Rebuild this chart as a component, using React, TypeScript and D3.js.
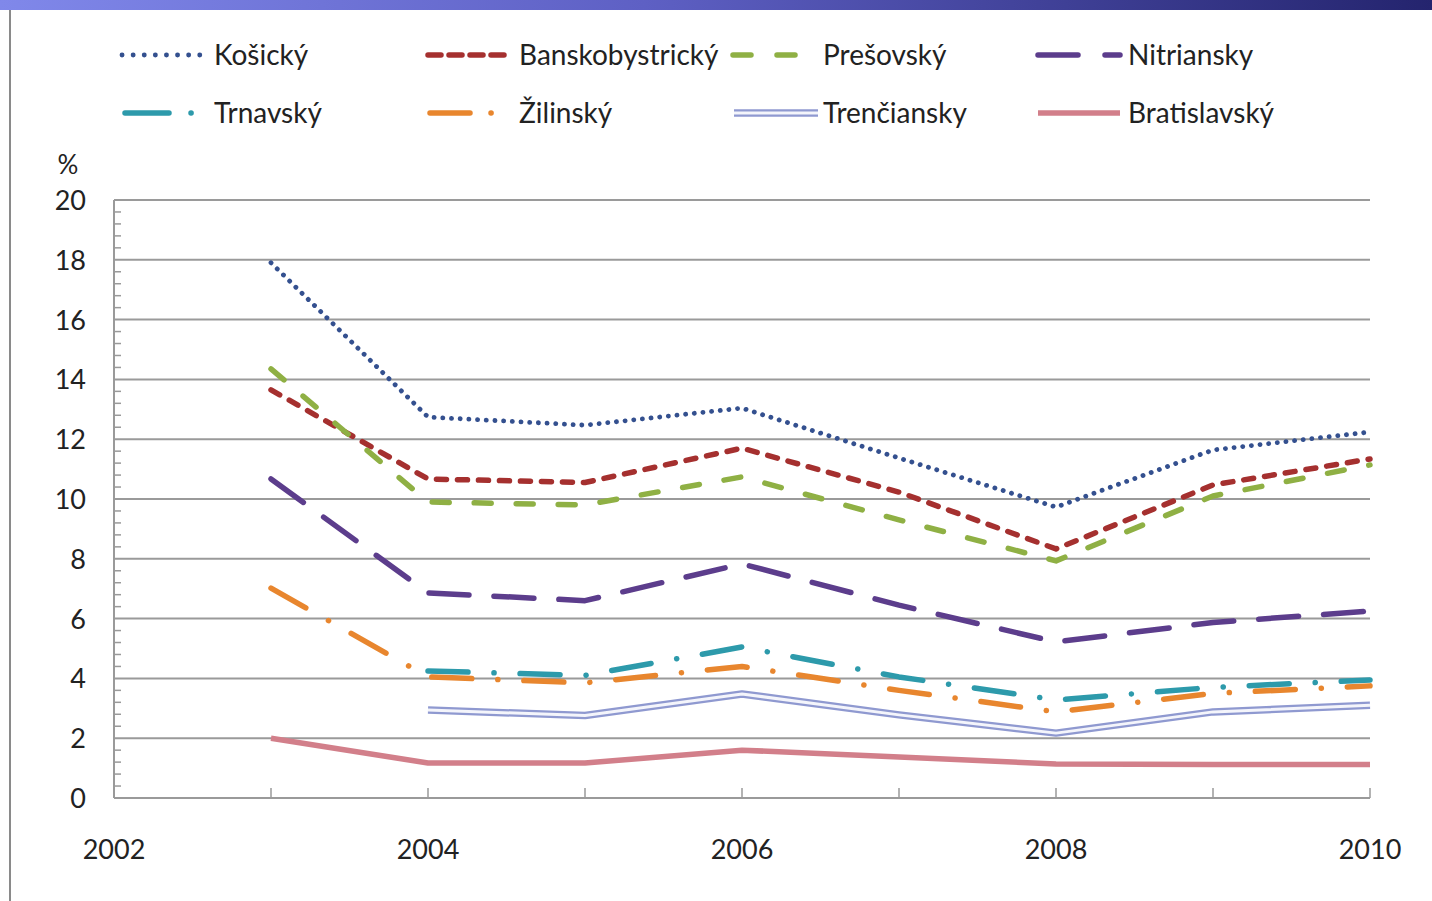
import React from "react";
import * as d3 from "d3";

const years = [2003, 2004, 2005, 2006, 2007, 2008, 2009, 2010];
const kosicky = [17.9, 12.74, 12.47, 13.04, 11.37, 9.73, 11.64, 12.24];
const banskobystricky = [13.65, 10.67, 10.55, 11.7, 10.23, 8.33, 10.47, 11.34];
const presovsky = [14.35, 9.9, 9.8, 10.74, 9.3, 7.93, 10.1, 11.14];
const nitriansky = [10.67, 6.86, 6.6, 7.83, 6.45, 5.22, 5.87, 6.25];
const trnavsky = [null, 4.25, 4.1, 5.05, 4.05, 3.28, 3.7, 3.95];
const zilinsky = [7.02, 4.05, 3.85, 4.4, 3.6, 2.88, 3.5, 3.75];
const trenciansky = [null, 2.94, 2.76, 3.48, 2.78, 2.17, 2.88, 3.1];
const bratislavsky = [2.0, 1.17, 1.17, 1.6, 1.37, 1.14, 1.12, 1.12];

const yTicks = [0, 2, 4, 6, 8, 10, 12, 14, 16, 18, 20];
const xTickLabels = [2002, 2004, 2006, 2008, 2010];

type Series = {
  name: string;
  values: (number | null)[];
  color: string;
  dash: string;
  width: number;
  double?: boolean;
};

const series: Series[] = [
  { name: "Košický", values: kosicky, color: "#34508f", dash: "0.1 8.6", width: 4.8 },
  { name: "Banskobystrický", values: banskobystricky, color: "#a5302f", dash: "10 11", width: 5.5 },
  { name: "Prešovský", values: presovsky, color: "#8fb044", dash: "17 25", width: 5.5 },
  { name: "Nitriansky", values: nitriansky, color: "#5c3d8c", dash: "40 25", width: 5.5 },
  { name: "Trnavský", values: trnavsky, color: "#2d9aab", dash: "40 26 0.1 26", width: 5.5 },
  { name: "Žilinský", values: zilinsky, color: "#e8862e", dash: "40 26 0.1 26", width: 5.5 },
  { name: "Trenčiansky", values: trenciansky, color: "#8f99d0", dash: "", width: 7.5, double: true },
  { name: "Bratislavský", values: bratislavsky, color: "#d27f8a", dash: "", width: 5.5 },
];

const legendPos = [
  { sx: 122, ex: 200, tx: 214, y: 55 },
  { sx: 428, ex: 512, tx: 519, y: 55 },
  { sx: 733, ex: 800, tx: 823, y: 55 },
  { sx: 1038, ex: 1120, tx: 1128, y: 55 },
  { sx: 125, ex: 200, tx: 214, y: 113 },
  { sx: 430, ex: 500, tx: 519, y: 113 },
  { sx: 734, ex: 818, tx: 823, y: 113 },
  { sx: 1038, ex: 1120, tx: 1128, y: 113 },
];

const legendDash: Record<string, string> = {
  "Košický": "0.1 11",
  "Banskobystrický": "13 8",
  "Prešovský": "18 26",
  "Nitriansky": "40 27",
  "Trnavský": "44 22 0.1 40",
  "Žilinský": "40 21 0.1 40",
};

export default function App() {
  const W = 1432;
  const H = 901;
  const x = d3.scaleLinear().domain([2002, 2010]).range([114, 1370]);
  const y = d3.scaleLinear().domain([0, 20]).range([798, 200]);
  const font = "Lato, 'Open Sans', sans-serif";
  const grid = "#9a9a9a";

  const line = d3
    .line<[number, number | null]>()
    .defined((d) => d[1] !== null)
    .x((d) => x(d[0]))
    .y((d) => y(d[1] as number));

  const minor = d3.range(0, 20.001, 0.4).filter((v) => Math.abs(v / 2 - Math.round(v / 2)) > 0.01);

  return (
    <svg width={W} height={H} style={{ position: "absolute", left: 0, top: 0, background: "#fff" }}>
      <defs>
        <linearGradient id="topbar" x1="0" x2="1" y1="0" y2="0">
          <stop offset="0" stopColor="#8088ea" />
          <stop offset="0.45" stopColor="#5e60c4" />
          <stop offset="1" stopColor="#24246e" />
        </linearGradient>
      </defs>
      <rect x={0} y={0} width={W} height={10} fill="url(#topbar)" />
      <line x1={10} x2={10} y1={10} y2={H} stroke="#8a8a8a" strokeWidth={2} />

      {/* gridlines */}
      {yTicks.map((t) => (
        <line key={t} x1={114} x2={1370} y1={y(t)} y2={y(t)} stroke={grid} strokeWidth={2} />
      ))}
      <line x1={114} x2={114} y1={y(20)} y2={y(0)} stroke={grid} strokeWidth={2} />
      {minor.map((v) => (
        <line key={v} x1={114} x2={121} y1={y(v)} y2={y(v)} stroke={grid} strokeWidth={1.5} />
      ))}
      {years.map((yr) => (
        <line key={yr} x1={x(yr)} x2={x(yr)} y1={y(0)} y2={y(0) - 10} stroke={grid} strokeWidth={1.5} />
      ))}

      {/* y labels */}
      {yTicks.map((t) => (
        <text key={t} x={86} y={y(t) + 10} textAnchor="end" fontFamily={font} fontSize={27} fill="#222">
          {t}
        </text>
      ))}
      <text x={68} y={174} textAnchor="middle" fontFamily={font} fontSize={26} fill="#222">
        %
      </text>
      {xTickLabels.map((t) => (
        <text key={t} x={x(t)} y={859} textAnchor="middle" fontFamily={font} fontSize={27} fill="#222">
          {t}
        </text>
      ))}

      {/* series */}
      {series.map((s) => {
        const pts = years.map((yr, i) => [yr, s.values[i]] as [number, number | null]);
        const d = line(pts) || "";
        if (s.double) {
          return (
            <g key={s.name}>
              <path d={d} fill="none" stroke={s.color} strokeWidth={s.width} strokeLinejoin="round" />
              <path d={d} fill="none" stroke="#f4f5fb" strokeWidth={3} strokeLinejoin="round" />
            </g>
          );
        }
        return (
          <path
            key={s.name}
            d={d}
            fill="none"
            stroke={s.color}
            strokeWidth={s.width}
            strokeDasharray={s.dash || undefined}
            strokeLinecap={s.dash ? "round" : "butt"}
            strokeLinejoin="round"
          />
        );
      })}

      {/* legend */}
      {series.map((s, i) => {
        const p = legendPos[i];
        return (
          <g key={s.name}>
            {s.double ? (
              <g>
                <line x1={p.sx} x2={p.ex} y1={p.y} y2={p.y} stroke={s.color} strokeWidth={7.5} />
                <line x1={p.sx} x2={p.ex} y1={p.y} y2={p.y} stroke="#f4f5fb" strokeWidth={3} />
              </g>
            ) : (
              <line
                x1={p.sx}
                x2={p.ex}
                y1={p.y}
                y2={p.y}
                stroke={s.color}
                strokeWidth={s.width}
                strokeDasharray={legendDash[s.name]}
                strokeLinecap={legendDash[s.name] ? "round" : "butt"}
              />
            )}
            <text x={p.tx} y={p.y + 10} fontFamily={font} fontSize={28} fill="#222">
              {s.name}
            </text>
          </g>
        );
      })}
    </svg>
  );
}
